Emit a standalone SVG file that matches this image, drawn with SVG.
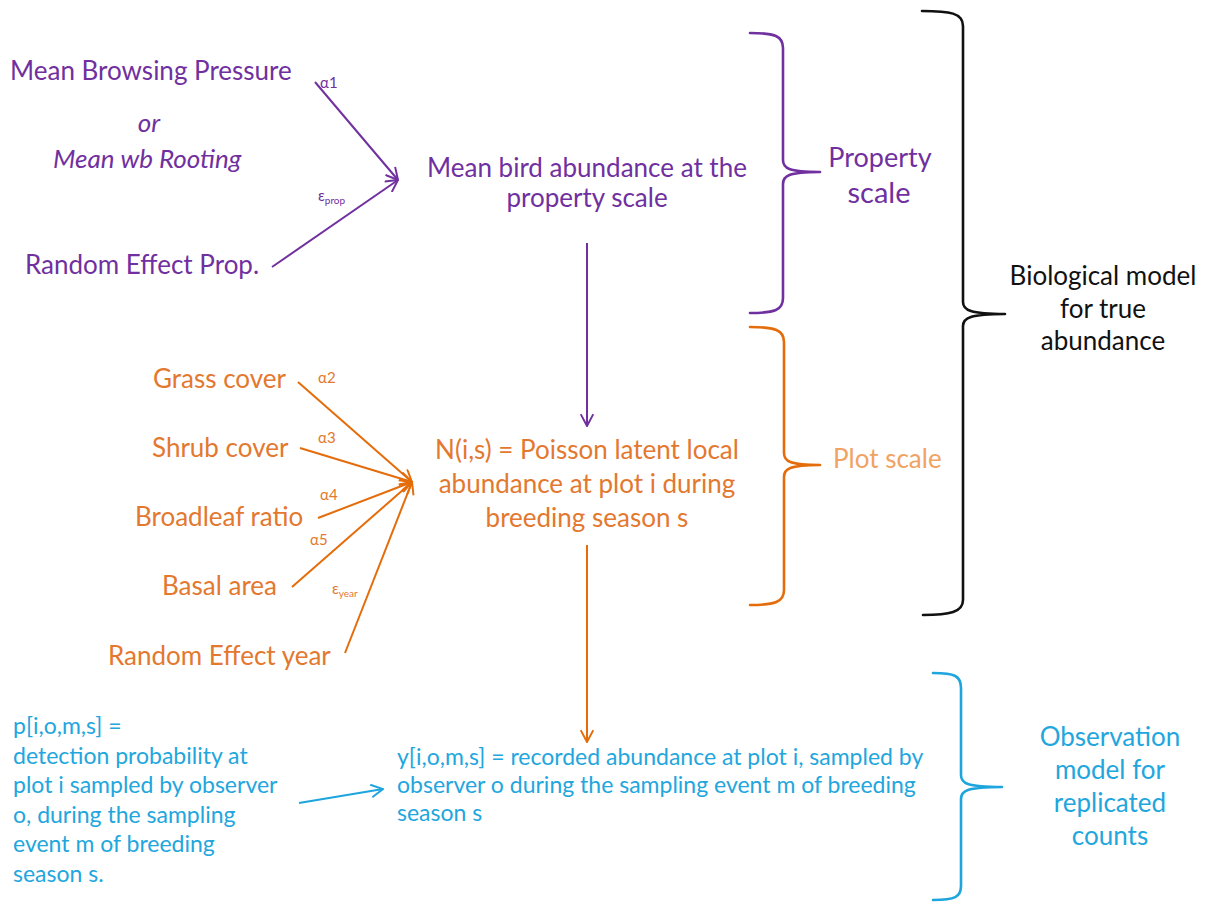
<svg xmlns="http://www.w3.org/2000/svg" width="1207" height="905" viewBox="0 0 1207 905">
<style>
text{font-family:Lato,"Open Sans","Liberation Sans",sans-serif}
.pu{fill:#7030A0}
.or{fill:#E3782F}
.cy{fill:#22A6DD}
.bk{fill:#111}
.lt{fill:#F0A362}
.big{font-size:26px}
.mid{font-size:23px}
.sm{font-size:15px}
.sub{font-size:10px}
.c{text-anchor:middle}
.lp{stroke:#7030A0;stroke-width:2;fill:none}
.lo{stroke:#E46C0A;stroke-width:2;fill:none}
.lc{stroke:#1EA5DE;stroke-width:2;fill:none}
.br{fill:none;stroke-width:2.6;stroke-linecap:round;stroke-linejoin:round}
</style>
<defs>
<marker id="ap" viewBox="0 0 10 10" refX="9.5" refY="5" markerWidth="14" markerHeight="14" markerUnits="userSpaceOnUse" orient="auto"><path d="M1,0.5 L9.5,5 L1,9.5" fill="none" stroke="#7030A0" stroke-width="1.4"/></marker>
<marker id="ao" viewBox="0 0 10 10" refX="9.5" refY="5" markerWidth="14" markerHeight="14" markerUnits="userSpaceOnUse" orient="auto"><path d="M1,0.5 L9.5,5 L1,9.5" fill="none" stroke="#E46C0A" stroke-width="1.4"/></marker>
<marker id="ac" viewBox="0 0 10 10" refX="9.5" refY="5" markerWidth="14" markerHeight="14" markerUnits="userSpaceOnUse" orient="auto"><path d="M1,0.5 L9.5,5 L1,9.5" fill="none" stroke="#1EA5DE" stroke-width="1.4"/></marker>
</defs>
<rect width="1207" height="905" fill="#fff"/>

<g id="connectors">
<line class="lp" x1="315" y1="82" x2="398" y2="180" marker-end="url(#ap)"/>
<line class="lp" x1="272" y1="267" x2="398" y2="180" marker-end="url(#ap)"/>
<line class="lp" x1="587" y1="243" x2="587" y2="426" marker-end="url(#ap)"/>
<line class="lo" x1="298" y1="382" x2="412" y2="482" marker-end="url(#ao)"/>
<line class="lo" x1="300" y1="448" x2="412" y2="482" marker-end="url(#ao)"/>
<line class="lo" x1="318" y1="518" x2="412" y2="482" marker-end="url(#ao)"/>
<line class="lo" x1="292" y1="587" x2="412" y2="482" marker-end="url(#ao)"/>
<line class="lo" x1="345" y1="653" x2="412" y2="482" marker-end="url(#ao)"/>
<line class="lo" x1="587" y1="545" x2="587" y2="742" marker-end="url(#ao)"/>
<line class="lc" x1="299" y1="803" x2="383" y2="789" marker-end="url(#ac)"/>
<text class="pu sm" x="320" y="88">α1</text>
<text class="pu sm" x="318" y="201">ε<tspan class="sub" dy="3">prop</tspan></text>
<text class="or sm" x="318" y="383">α2</text>
<text class="or sm" x="318" y="443">α3</text>
<text class="or sm" x="320" y="500">α4</text>
<text class="or sm" x="310" y="545">α5</text>
<text class="or sm" x="332" y="594">ε<tspan class="sub" dy="3">year</tspan></text>
</g>

<g id="node-browsing">
<text class="pu big" x="10" y="80">Mean Browsing Pressure</text>
<text class="pu big c" x="149" y="132" font-style="italic">or</text>
<text class="pu big" x="53" y="168" font-style="italic">Mean wb Rooting</text>
</g>
<g id="node-random-prop">
<text class="pu big" x="25" y="274">Random Effect Prop.</text>
</g>
<g id="node-mean-bird">
<text class="pu big c" x="587" y="177">Mean bird abundance at the</text>
<text class="pu big c" x="587" y="207">property scale</text>
</g>

<g id="node-grass"><text class="or big" x="153" y="388">Grass cover</text></g>
<g id="node-shrub"><text class="or big" x="152" y="457">Shrub cover</text></g>
<g id="node-broadleaf"><text class="or big" x="135" y="526">Broadleaf ratio</text></g>
<g id="node-basal"><text class="or big" x="162" y="595">Basal area</text></g>
<g id="node-random-year"><text class="or big" x="108" y="665">Random Effect year</text></g>
<g id="node-poisson">
<text class="or big c" x="587" y="459">N(i,s) = Poisson latent local</text>
<text class="or big c" x="587" y="493">abundance at plot i during</text>
<text class="or big c" x="587" y="527">breeding season s</text>
</g>

<g id="node-detection">
<text class="cy mid" x="13" y="734">p[i,o,m,s] =</text>
<text class="cy mid" x="13" y="764">detection probability at</text>
<text class="cy mid" x="13" y="793">plot i sampled by observer</text>
<text class="cy mid" x="13" y="823">o, during the sampling</text>
<text class="cy mid" x="13" y="852">event m of breeding</text>
<text class="cy mid" x="13" y="882">season s.</text>
</g>
<g id="node-recorded">
<text class="cy mid" x="397" y="765">y[i,o,m,s] = recorded abundance at plot i, sampled by</text>
<text class="cy mid" x="397" y="793">observer o during the sampling event m of breeding</text>
<text class="cy mid" x="397" y="821">season s</text>
</g>

<g id="brace-property">
<path class="br" stroke="#7030A0" d="M750,33 C775,33 783,36 783,48 L783,160 C783,168 788,172 820,172 C788,172 783,176 783,184 L783,298 C783,310 775,313 750,313"/>
<text class="pu c" x="880" y="167" font-size="27">Property</text>
<text class="pu c" x="879" y="203" font-size="29">scale</text>
</g>
<g id="brace-plot">
<path class="br" stroke="#E46C0A" d="M750,327 C775,327 784,330 784,342 L784,453 C784,461 789,465 820,465 C789,465 784,469 784,477 L784,590 C784,602 775,605 750,605"/>
<text class="lt big" x="833" y="468">Plot scale</text>
</g>
<g id="brace-biological">
<path class="br" stroke="#111" d="M922,11 C950,11 963,13 963,26 L963,302 C963,310 970,314 1005,314 C970,314 963,318 963,326 L963,600 C963,612 950,615 923,615"/>
<text class="bk big c" x="1103" y="285">Biological model</text>
<text class="bk big c" x="1103" y="318">for true</text>
<text class="bk big c" x="1103" y="350">abundance</text>
</g>
<g id="brace-observation">
<path class="br" stroke="#1EA5DE" d="M933,673 C955,673 961,676 961,688 L961,775 C961,783 966,787 1002,787 C966,787 961,791 961,799 L961,886 C961,897 955,900 933,900"/>
<text class="cy big c" x="1110" y="746">Observation</text>
<text class="cy big c" x="1110" y="779">model for</text>
<text class="cy big c" x="1110" y="812">replicated</text>
<text class="cy big c" x="1110" y="845">counts</text>
</g>
</svg>
